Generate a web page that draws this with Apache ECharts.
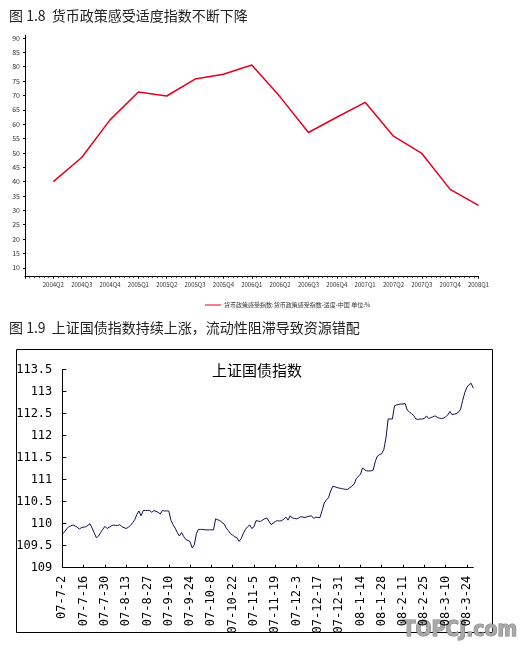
<!DOCTYPE html>
<html>
<head>
    <meta charset="utf-8">
    <title>货币政策 / 上证国债指数</title>
    <script type="text/javascript" src="https://cdn.jsdelivr.net/npm/echarts@6.0.0/dist/echarts.min.js"></script>
    <style>
        html, body { margin: 0; padding: 0; background: #fff; }
    </style>
</head>
<body>
    <div id="main" style="width: 531px;height:655px;"></div>

    <script type="text/javascript">
        // 图1.8 货币政策感受适度指数 (quarterly)
        var quarters = ['2004Q2','2004Q3','2004Q4','2005Q1','2005Q2','2005Q3','2005Q4','2006Q1',
                        '2006Q2','2006Q3','2006Q4','2007Q1','2007Q2','2007Q3','2007Q4','2008Q1'];
        var policyIndex = [40, 48.4, 61.5, 71.2, 69.8, 75.7, 77.4, 80.6,
                           69.5, 57.1, 62.4, 67.6, 55.8, 49.8, 37.3, 31.7];
        var policyTicks = [10,15,20,25,30,35,40,45,50,55,60,65,70,75,80,85,90];

        // 图1.9 上证国债指数 (one value per weekday from 07-7-2)
        var bondTickLabels = ['07-7-2','07-7-16','07-7-30','07-8-13','07-8-27','07-9-10','07-9-24',
                              '07-10-8','07-10-22','07-11-5','07-11-19','07-12-3','07-12-17','07-12-31',
                              '08-1-14','08-1-28','08-2-11','08-2-25','08-3-10','08-3-24'];
        var bondIndex = [
            109.76, 109.81, 109.88, 109.93, 109.95, 109.97, 109.95, 109.92, 109.88, 109.91,
            109.92, 109.93, 109.96, 110.00, 109.90, 109.79, 109.68, 109.72, 109.80, 109.87,
            109.94, 109.89, 109.92, 109.95, 109.97, 109.96, 109.96, 109.98, 109.93, 109.91,
            109.89, 109.92, 109.96, 110.02, 110.09, 110.21, 110.29, 110.18, 110.30, 110.30,
            110.30, 110.30, 110.26, 110.30, 110.28, 110.26, 110.22, 110.30, 110.29, 110.29,
            110.29, 110.08, 109.98, 109.90, 109.80, 109.72, 109.80, 109.71, 109.64, 109.62,
            109.59, 109.45, 109.52, 109.78, 109.87, 109.87, 109.87, 109.86, 109.86, 109.86,
            109.86, 109.86, 110.11, 110.09, 110.07, 110.03, 109.99, 109.90, 109.84, 109.77,
            109.74, 109.70, 109.68, 109.60, 109.66, 109.78, 109.87, 109.93, 109.97, 109.89,
            109.93, 110.07, 110.06, 110.05, 110.08, 110.11, 110.13, 110.06, 109.98, 110.01,
            110.05, 110.07, 110.06, 110.07, 110.10, 110.15, 110.08, 110.18, 110.13, 110.12,
            110.11, 110.13, 110.16, 110.15, 110.14, 110.16, 110.17, 110.18, 110.12, 110.15,
            110.14, 110.14, 110.30, 110.47, 110.54, 110.59, 110.74, 110.85, 110.84, 110.82,
            110.81, 110.80, 110.79, 110.78, 110.78, 110.82, 110.85, 110.90, 111.02, 111.08,
            111.12, 111.27, 111.22, 111.20, 111.20, 111.20, 111.22, 111.42, 111.54, 111.57,
            111.59, 111.69, 111.95, 112.38, 112.38, 112.38, 112.68, 112.70, 112.71, 112.72,
            112.72, 112.73, 112.58, 112.54, 112.50, 112.46, 112.38, 112.37, 112.38, 112.38,
            112.39, 112.45, 112.39, 112.41, 112.43, 112.45, 112.42, 112.40, 112.39, 112.40,
            112.43, 112.47, 112.55, 112.48, 112.49, 112.50, 112.53, 112.60, 112.80, 112.98,
            113.10, 113.16, 113.19, 113.08
        ];

        var policyData = policyIndex.map(function (v, i) { return [i + 1, v]; });
        var bondData = bondIndex.map(function (v, i) { return [i, v]; });

        var cjk = '"Noto Sans CJK SC", sans-serif';
        var mono = '"DejaVu Sans Mono", monospace';

        var myChart = echarts.init(document.getElementById('main'));

        var option = {
            backgroundColor: '#fff',
            animation: false,
            title: [
                {
                    text: '图 1.8  货币政策感受适度指数不断下降',
                    left: 4, top: 4,
                    textStyle: { fontFamily: cjk, fontSize: 14, fontWeight: 'normal', color: '#222' }
                },
                {
                    text: '图 1.9  上证国债指数持续上涨，流动性阻滞导致资源错配',
                    left: 4, top: 316,
                    textStyle: { fontFamily: cjk, fontSize: 14, fontWeight: 'normal', color: '#222' }
                },
                {
                    text: '上证国债指数',
                    left: 207, top: 358,
                    textStyle: { fontFamily: cjk, fontSize: 15, fontWeight: 'normal', color: '#000' }
                }
            ],
            legend: {
                left: 200, top: 297,
                itemWidth: 16, itemHeight: 6, itemGap: 4,
                data: [{ name: '货币政策感受指数:货币政策感受指数-适度-中国 单位:%', icon: 'path://M0,4.5L16,4.5L16,5.5L0,5.5Z' }],
                textStyle: { fontFamily: cjk, fontSize: 6, color: '#333', padding: [0, 0, 0, -2] }
            },
            grid: [
                { left: 25, top: 35.1, right: 52.5, bottom: 378.3 },
                { left: 62.3, top: 369.7, right: 57.7, bottom: 87.3 }
            ],
            xAxis: [
                {
                    gridIndex: 0, type: 'value', min: 0, max: 16, interval: 1,
                    axisLine: { lineStyle: { color: '#000', width: 1 } },
                    axisTick: { length: 2, lineStyle: { color: '#000' } },
                    minorTick: { show: true, splitNumber: 6, length: 1.5, lineStyle: { color: '#555' } },
                    splitLine: { show: false },
                    axisLabel: {
                        fontFamily: cjk, fontSize: 6, color: '#333', margin: 5,
                        formatter: function (v) { return v >= 1 ? quarters[v - 1] : ''; }
                    }
                },
                {
                    gridIndex: 1, type: 'value', min: 0, max: 193, interval: 10,
                    axisLine: { lineStyle: { color: '#000', width: 1 } },
                    axisTick: { inside: true, length: 3, lineStyle: { color: '#000' } },
                    splitLine: { show: false },
                    axisLabel: {
                        rotate: 90, fontFamily: mono, fontSize: 12, color: '#000', margin: 8,
                        showMaxLabel: false,
                        formatter: function (v) { return bondTickLabels[Math.round(v / 10)] || ''; }
                    }
                }
            ],
            yAxis: [
                {
                    gridIndex: 0, type: 'value', min: 6.9, max: 91,
                    axisLine: { show: true, lineStyle: { color: '#000', width: 1 } },
                    axisTick: { show: true, length: 2, customValues: policyTicks, lineStyle: { color: '#000' } },
                    splitLine: { show: false },
                    axisLabel: {
                        customValues: policyTicks,
                        fontFamily: cjk, fontSize: 7, color: '#333', margin: 5
                    }
                },
                {
                    gridIndex: 1, type: 'value', min: 109, max: 113.5, interval: 0.5,
                    axisLine: { show: true, lineStyle: { color: '#000', width: 1 } },
                    axisTick: { show: true, inside: true, length: 4, lineStyle: { color: '#000' } },
                    splitLine: { show: false },
                    axisLabel: { fontFamily: mono, fontSize: 12, color: '#000', margin: 10 }
                }
            ],
            graphic: [
                {
                    type: 'rect',
                    shape: { x: 16.5, y: 349.5, width: 476, height: 283 },
                    style: { fill: 'none', stroke: '#000', lineWidth: 1 },
                    silent: true
                },
                {
                    type: 'text',
                    left: 402, top: 620,
                    style: {
                        text: 'TOPCJ.com',
                        fontFamily: '"DejaVu Sans Condensed", sans-serif',
                        fontSize: 21, fontWeight: 'bold',
                        fill: '#a8a8a8', stroke: '#7a7a7a', lineWidth: 1
                    },
                    silent: true
                }
            ],
            series: [
                {
                    name: '货币政策感受指数:货币政策感受指数-适度-中国 单位:%',
                    type: 'line',
                    xAxisIndex: 0, yAxisIndex: 0,
                    data: policyData,
                    symbol: 'none',
                    lineStyle: { color: '#e4001e', width: 1.5 },
                    itemStyle: { color: '#e4001e' }
                },
                {
                    name: '上证国债指数',
                    type: 'line',
                    xAxisIndex: 1, yAxisIndex: 1,
                    data: bondData,
                    symbol: 'none',
                    lineStyle: { color: '#101050', width: 1 }
                }
            ]
        };

        myChart.setOption(option);
    </script>
</body>
</html>
